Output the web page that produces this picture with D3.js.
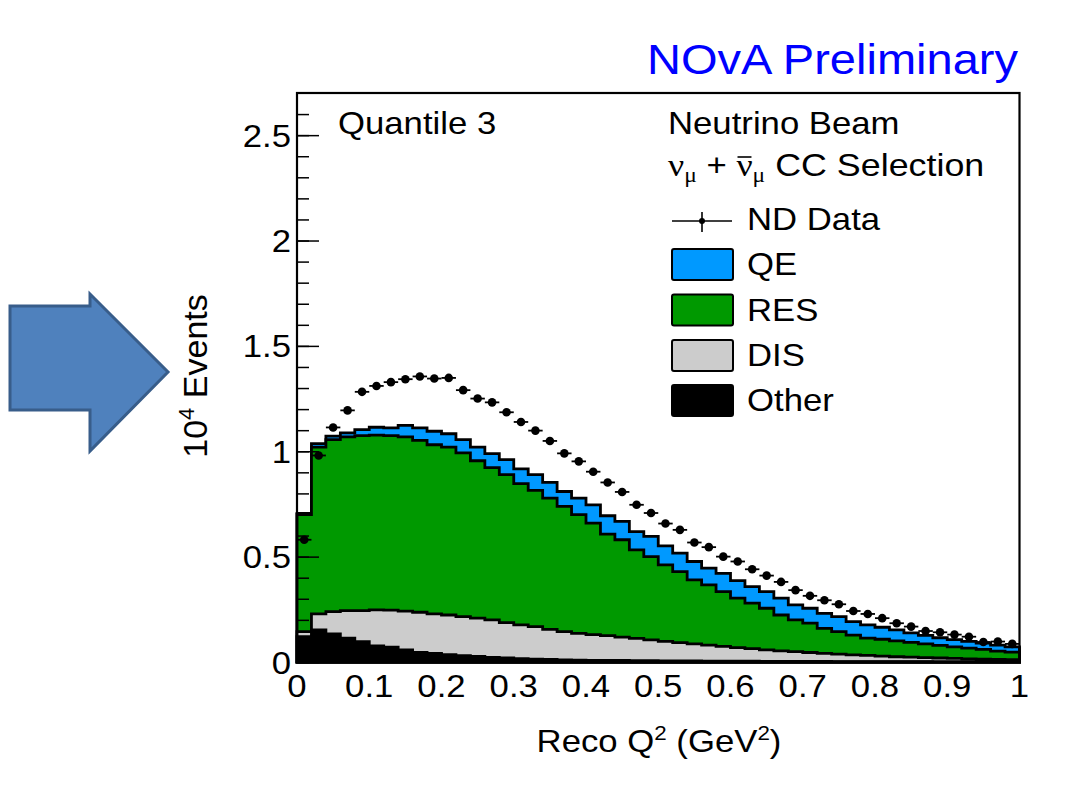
<!DOCTYPE html>
<html>
<head>
<meta charset="utf-8">
<script src="https://cdn.jsdelivr.net/npm/d3@7"></script>
<style>
  html, body { margin: 0; padding: 0; background: #fff; }
  svg { display: block; }
</style>
</head>
<body>
<svg id="chart" width="1070" height="785"></svg>
<script>
// ---------------- data (units of 10^4 events), 50 bins of 0.02 GeV^2 ----------------
const binWidth = 0.02;
const nBins = 50;
const other = [0.120,0.152,0.133,0.113,0.097,0.076,0.070,0.057,0.046,0.041,0.035,0.030,0.026,0.022,0.019,0.016,0.014,0.012,0.010,0.009,0.008,0.007,0.007,0.006,0.006,0.005,0.005,0.005,0.004,0.004,0.004,0.004,0.003,0.003,0.003,0.003,0.003,0.002,0.002,0.002,0.002,0.002,0.002,0.002,0.001,0.001,0.001,0.001,0.001,0.001];
const dis = [0.024,0.076,0.106,0.131,0.147,0.171,0.176,0.184,0.190,0.187,0.188,0.185,0.182,0.178,0.168,0.160,0.154,0.143,0.134,0.127,0.122,0.118,0.111,0.106,0.099,0.093,0.087,0.081,0.076,0.070,0.064,0.059,0.055,0.050,0.046,0.042,0.038,0.035,0.032,0.029,0.026,0.023,0.021,0.019,0.018,0.016,0.014,0.012,0.011,0.010];
const res = [0.556,0.792,0.816,0.824,0.830,0.830,0.828,0.827,0.816,0.803,0.797,0.777,0.747,0.722,0.702,0.670,0.646,0.623,0.594,0.563,0.529,0.482,0.462,0.420,0.395,0.363,0.337,0.304,0.286,0.260,0.235,0.216,0.197,0.170,0.151,0.139,0.119,0.107,0.094,0.082,0.080,0.075,0.070,0.065,0.060,0.055,0.051,0.047,0.040,0.036];
const qe = [0.005,0.016,0.017,0.019,0.029,0.037,0.037,0.055,0.059,0.064,0.063,0.063,0.065,0.067,0.071,0.070,0.075,0.074,0.071,0.079,0.087,0.087,0.087,0.087,0.096,0.090,0.088,0.087,0.079,0.087,0.083,0.079,0.079,0.080,0.071,0.071,0.071,0.071,0.064,0.063,0.057,0.052,0.045,0.040,0.036,0.034,0.032,0.030,0.028,0.025];
const ndData = [0.58,0.98,1.113,1.194,1.282,1.31,1.328,1.342,1.355,1.345,1.348,1.29,1.25,1.232,1.185,1.139,1.098,1.049,0.99,0.952,0.903,0.852,0.807,0.746,0.707,0.657,0.627,0.567,0.545,0.50,0.477,0.44,0.41,0.38,0.341,0.314,0.293,0.274,0.242,0.228,0.208,0.184,0.168,0.147,0.141,0.13,0.12,0.095,0.097,0.086];

const seriesKeys = ["other","dis","res","qe"];
const seriesColors = {qe:"#0099ff", res:"#009900", dis:"#cccccc", other:"#000000"};
const legendLabels = ["QE","RES","DIS","Other"];
const legendKeys = ["qe","res","dis","other"];

const yTickValues = [0,0.5,1,1.5,2,2.5];
const yTickLabels = ["0","0.5","1","1.5","2","2.5"];
const xTickValues = [0,0.1,0.2,0.3,0.4,0.5,0.6,0.7,0.8,0.9,1];
const xTickLabels = ["0","0.1","0.2","0.3","0.4","0.5","0.6","0.7","0.8","0.9","1"];

// ---------------- layout ----------------
const SX = 1.12; // horizontal text stretch seen in the reference
const FONT = "'Liberation Sans', Arial, Helvetica, sans-serif";
const SERIF = "'Liberation Serif', 'DejaVu Serif', serif";
const svg = d3.select("#chart");
const L = 297, R = 1019.5, T = 93, B = 662;
const x = d3.scaleLinear().domain([0,1]).range([L,R]);
const y = d3.scaleLinear().domain([0,2.7]).range([B,T]);

const rows = d3.range(nBins).map(i => ({
  lo: i*binWidth, hi: (i+1)*binWidth,
  other: other[i], dis: dis[i], res: res[i], qe: qe[i], data: ndData[i]
}));
const stacked = d3.stack().keys(seriesKeys)(rows);

function stretchedText(g, xPos, yPos, str, size, anchor, opts={}) {
  const t = g.append("text")
    .attr("transform", `translate(${xPos},${yPos}) scale(${SX},1)`)
    .attr("font-family", opts.family || FONT)
    .attr("font-size", size)
    .attr("text-anchor", anchor || "start")
    .attr("fill", opts.fill || "#000")
    .text(str);
  return t;
}

// ---------------- blue arrow ----------------
svg.append("polygon")
  .attr("points", "10,306 90,306 90,294 168,372 90,451 90,410 10,410")
  .attr("fill", "#4f81bd").attr("stroke", "#385d8a").attr("stroke-width", 3)
  .attr("stroke-linejoin", "miter");

// ---------------- x ticks (drawn under histograms) ----------------
const xAxisG = svg.append("g").attr("transform", `translate(0,${B})`)
  .call(d3.axisBottom(x).tickValues(xTickValues).tickSizeInner(-15).tickSizeOuter(0)
        .tickFormat(() => ""));
xAxisG.select(".domain").remove();
xAxisG.selectAll("line").attr("stroke", "#000").attr("stroke-width", 1.5);

// ---------------- stacked histograms ----------------
function stepPath(layer) {
  const p = d3.path();
  p.moveTo(x(0), y(0));
  layer.forEach((d, i) => {
    p.lineTo(x(rows[i].lo), y(d[1]));
    p.lineTo(x(rows[i].hi), y(d[1]));
  });
  p.lineTo(x(1), y(0));
  p.closePath();
  return p.toString();
}
const histG = svg.append("g");
stacked.slice().reverse().forEach(layer => {
  histG.append("path")
    .attr("d", stepPath(layer))
    .attr("fill", seriesColors[layer.key])
    .attr("stroke", "#000")
    .attr("stroke-width", 2.8)
    .attr("stroke-linejoin", "miter");
});

// ---------------- data points ----------------
const dataG = svg.append("g");
dataG.selectAll("line.xerr").data(rows).join("line")
  .attr("x1", d => x(d.lo)).attr("x2", d => x(d.hi))
  .attr("y1", d => y(d.data)).attr("y2", d => y(d.data))
  .attr("stroke", "#000").attr("stroke-width", 1.8);
dataG.selectAll("circle").data(rows).join("circle")
  .attr("cx", d => x((d.lo + d.hi)/2)).attr("cy", d => y(d.data))
  .attr("r", 4.3).attr("fill", "#000");

// ---------------- frame ----------------
svg.append("rect").attr("x", L).attr("y", T).attr("width", R-L).attr("height", B-T)
  .attr("fill", "none").attr("stroke", "#000").attr("stroke-width", 2.2);

// ---------------- y axis ----------------
const yMinor = svg.append("g").attr("transform", `translate(${L},0)`)
  .call(d3.axisLeft(y).tickValues(d3.range(0, 27).map(i => i/10)).tickSizeInner(-12).tickSizeOuter(0).tickFormat(() => ""));
yMinor.select(".domain").remove();
yMinor.selectAll("line").attr("stroke", "#000").attr("stroke-width", 1.5);

const yMajor = svg.append("g").attr("transform", `translate(${L},0)`)
  .call(d3.axisLeft(y).tickValues(yTickValues).tickSizeInner(-22).tickSizeOuter(0).tickPadding(6)
        .tickFormat((d, i) => yTickLabels[i]));
yMajor.select(".domain").remove();
yMajor.selectAll("line").attr("stroke", "#000").attr("stroke-width", 1.5);
yMajor.selectAll("text")
  .attr("x", null).attr("dy", null)
  .attr("transform", "translate(-6,11) scale(" + SX + ",1)")
  .attr("font-family", FONT).attr("font-size", 31).attr("fill", "#000");

// x tick labels
const xLab = svg.append("g");
xTickValues.forEach((v, i) => {
  stretchedText(xLab, x(v), 697, xTickLabels[i], 31, "middle");
});

// ---------------- axis titles ----------------
const xt = stretchedText(svg, 659, 752, "", 31, "middle");
xt.append("tspan").text("Reco Q");
xt.append("tspan").attr("font-size", 20).attr("dy", -12).text("2");
xt.append("tspan").attr("dy", 12).text(" (GeV");
xt.append("tspan").attr("font-size", 20).attr("dy", -12).text("2");
xt.append("tspan").attr("dy", 12).text(")");

const yt = svg.append("text")
  .attr("transform", "translate(207,376) rotate(-90)")
  .attr("font-family", FONT).attr("font-size", 34).attr("text-anchor", "middle").attr("fill", "#000");
yt.append("tspan").text("10");
yt.append("tspan").attr("font-size", 22).attr("dy", -13).text("4");
yt.append("tspan").attr("dy", 13).text(" Events");

// ---------------- headers ----------------
stretchedText(svg, 1018, 74, "NOvA Preliminary", 42, "end", {fill: "#0000ff"});
stretchedText(svg, 338, 134, "Quantile 3", 31, "start");
stretchedText(svg, 668, 134, "Neutrino Beam", 31, "start");

// nu_mu + nubar_mu CC Selection
const sel = svg.append("g").attr("transform", `translate(668,176) scale(${SX},1)`);
let cx = 0;
function piece(str, family, size, dy) {
  const t = sel.append("text").attr("x", cx).attr("y", dy || 0)
    .attr("font-family", family).attr("font-size", size).attr("fill", "#000")
    .attr("xml:space", "preserve").style("white-space", "pre").text(str);
  const w = t.node().getComputedTextLength();
  const start = cx;
  cx += w;
  return {start, w};
}
piece("ν", SERIF, 32, 0);
piece("μ", SERIF, 21, 6);
piece(" + ", FONT, 31, 0);
const nb = piece("ν", SERIF, 32, 0);
sel.append("line").attr("x1", nb.start + 1).attr("x2", nb.start + nb.w - 1)
  .attr("y1", -19).attr("y2", -19).attr("stroke", "#000").attr("stroke-width", 1.6);
piece("μ", SERIF, 21, 6);
piece(" CC Selection", FONT, 32, 0);

// ---------------- legend ----------------
const leg = svg.append("g");
// ND data entry
leg.append("line").attr("x1", 672).attr("x2", 732).attr("y1", 221).attr("y2", 221)
  .attr("stroke", "#000").attr("stroke-width", 1.6);
leg.append("line").attr("x1", 702).attr("x2", 702).attr("y1", 212).attr("y2", 232)
  .attr("stroke", "#000").attr("stroke-width", 1.6);
leg.append("circle").attr("cx", 702).attr("cy", 221).attr("r", 3).attr("fill", "#000");
stretchedText(leg, 747, 230, "ND Data", 31, "start");

const boxTops = [249, 294.5, 340, 385];
legendKeys.forEach((k, i) => {
  leg.append("rect").attr("x", 672).attr("y", boxTops[i]).attr("width", 61).attr("height", 31)
    .attr("rx", 2).attr("fill", seriesColors[k]).attr("stroke", "#000").attr("stroke-width", 2);
  stretchedText(leg, 747, boxTops[i] + 26, legendLabels[i], 31, "start");
});
</script>
</body>
</html>
